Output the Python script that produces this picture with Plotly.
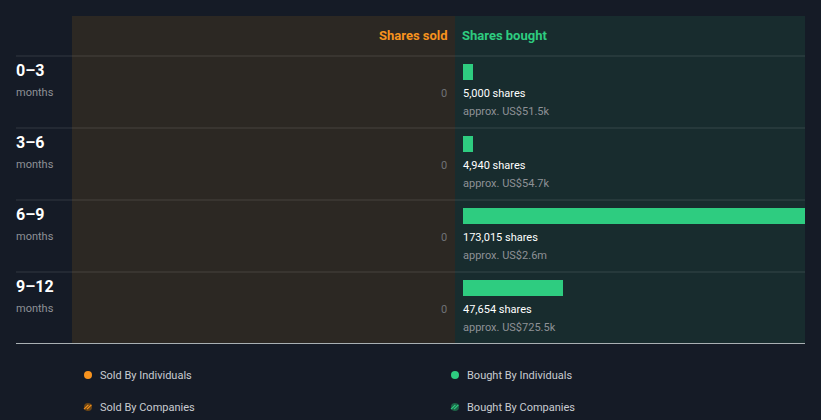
import plotly.graph_objects as go

periods = ["0–3", "3–6", "6–9", "9–12"]
period_unit = ["months", "months", "months", "months"]
sold_shares = [0, 0, 0, 0]
bought_shares = [5000, 4940, 173015, 47654]
bought_labels = ["5,000 shares", "4,940 shares", "173,015 shares", "47,654 shares"]
bought_values = ["approx. US$51.5k", "approx. US$54.7k", "approx. US$2.6m", "approx. US$725.5k"]
legend_items = ["Sold By Individuals", "Sold By Companies", "Bought By Individuals", "Bought By Companies"]

W, H = 821, 420
BG = "#151b26"
SOLD_BG = "#2c2823"
BOUGHT_BG = "#182c2e"
GREEN = "#2ecc80"
ORANGE = "#f7931e"
FONT = "Roboto"

def px(x):
    return x / W

def py(y):
    return 1 - y / H

fig = go.Figure()

rows = list(range(len(periods)))

fig.add_trace(go.Bar(
    x=bought_shares, y=rows, orientation="h", width=16 / 72,
    marker=dict(color=GREEN, line=dict(width=0)),
    xaxis="x", yaxis="y", hoverinfo="skip", showlegend=False,
))
fig.add_trace(go.Bar(
    x=sold_shares, y=rows, orientation="h", width=16 / 72,
    marker=dict(color=ORANGE, line=dict(width=0)),
    xaxis="x2", yaxis="y", hoverinfo="skip", showlegend=False,
))

shapes = []
shapes.append(dict(type="rect", xref="paper", yref="paper", x0=px(72), x1=px(455), y0=py(343), y1=py(16),
                   fillcolor=SOLD_BG, line=dict(width=0), layer="below"))
shapes.append(dict(type="rect", xref="paper", yref="paper", x0=px(455), x1=px(805), y0=py(343), y1=py(16),
                   fillcolor=BOUGHT_BG, line=dict(width=0), layer="below"))
for i in rows:
    shapes.append(dict(type="line", xref="paper", yref="y", x0=px(16), x1=px(805), y0=i - 16 / 72, y1=i - 16 / 72,
                       line=dict(color="rgba(255,255,255,0.13)", width=1), layer="below"))
shapes.append(dict(type="line", xref="paper", yref="paper", x0=px(16), x1=px(805), y0=py(343.5), y1=py(343.5),
                   line=dict(color="#a9b0b3", width=1)))

annotations = []
annotations.append(dict(text="<b>Shares sold</b>", xref="paper", yref="paper", x=px(447), y=py(35),
                        xanchor="right", yanchor="middle", showarrow=False, xshift=3,
                        font=dict(family=FONT, size=13, color=ORANGE)))
annotations.append(dict(text="<b>Shares bought</b>", xref="paper", yref="paper", x=px(463), y=py(35),
                        xanchor="left", yanchor="middle", showarrow=False, xshift=-3,
                        font=dict(family=FONT, size=13, color=GREEN)))

for i in rows:
    annotations.append(dict(text="<b>" + periods[i] + "</b>", xref="paper", yref="y", x=px(16), y=i - 0.015,
                            xanchor="left", yanchor="middle", showarrow=False, xshift=-2,
                            font=dict(family=FONT, size=16, color="#ffffff")))
    annotations.append(dict(text=period_unit[i], xref="paper", yref="y", x=px(16), y=i + 0.28,
                            xanchor="left", yanchor="middle", showarrow=False, xshift=-2,
                            font=dict(family=FONT, size=11, color="#8e9196")))
    annotations.append(dict(text=str(sold_shares[i]), xref="x2", yref="y", x=sold_shares[i], y=i + 0.305,
                            xanchor="right", yanchor="middle", showarrow=False, xshift=2,
                            font=dict(family=FONT, size=11, color="#6f7277")))
    annotations.append(dict(text=bought_labels[i], xref="x", yref="y", x=0, y=i + 0.305,
                            xanchor="left", yanchor="middle", showarrow=False, xshift=-2,
                            font=dict(family=FONT, size=11, color="#ffffff")))
    annotations.append(dict(text=bought_values[i], xref="x", yref="y", x=0, y=i + 0.555,
                            xanchor="left", yanchor="middle", showarrow=False, xshift=-2,
                            font=dict(family=FONT, size=11, color="#8e9196")))

legend_pos = [(88, 375), (88, 407), (455, 375), (455, 407)]
legend_col = [ORANGE, ORANGE, GREEN, GREEN]
legend_dark = ["#6b4514", "#6b4514", "#1d6146", "#1d6146"]
for k, name in enumerate(legend_items):
    cx, cy = legend_pos[k]
    r = 4
    if k % 2 == 0:
        shapes.append(dict(type="circle", xref="paper", yref="paper", x0=px(cx - r), x1=px(cx + r),
                           y0=py(cy + r), y1=py(cy - r), fillcolor=legend_col[k], line=dict(width=0)))
    else:
        shapes.append(dict(type="circle", xref="paper", yref="paper", x0=px(cx - r), x1=px(cx + r),
                           y0=py(cy + r), y1=py(cy - r), fillcolor=legend_dark[k], line=dict(width=0)))
        for d in (-1.8, 1.2):
            shapes.append(dict(type="line", xref="paper", yref="paper",
                               x0=px(cx - 2.2 + d), y0=py(cy + 2.2), x1=px(cx + 2.2 + d), y1=py(cy - 2.2),
                               line=dict(color=legend_col[k], width=1.2)))
    annotations.append(dict(text=name, xref="paper", yref="paper", x=px(cx + 12), y=py(cy),
                            xanchor="left", yanchor="middle", showarrow=False, xshift=-2,
                            font=dict(family=FONT, size=11, color="#c9ccd1")))

fig.update_layout(
    width=W, height=H, margin=dict(l=0, r=0, t=0, b=0),
    paper_bgcolor=BG, plot_bgcolor="rgba(0,0,0,0)",
    barmode="overlay", bargap=0,
    xaxis=dict(domain=[px(463), px(805)], range=[0, 163000], visible=False, fixedrange=True),
    xaxis2=dict(domain=[px(72), px(447)], range=[1, 0], visible=False, fixedrange=True, anchor="y"),
    yaxis=dict(domain=[0, 1], range=[(H - 72) / 72, -1], visible=False, fixedrange=True),
    shapes=shapes, annotations=annotations,
    showlegend=False,
)

fig.write_html("out.html")
